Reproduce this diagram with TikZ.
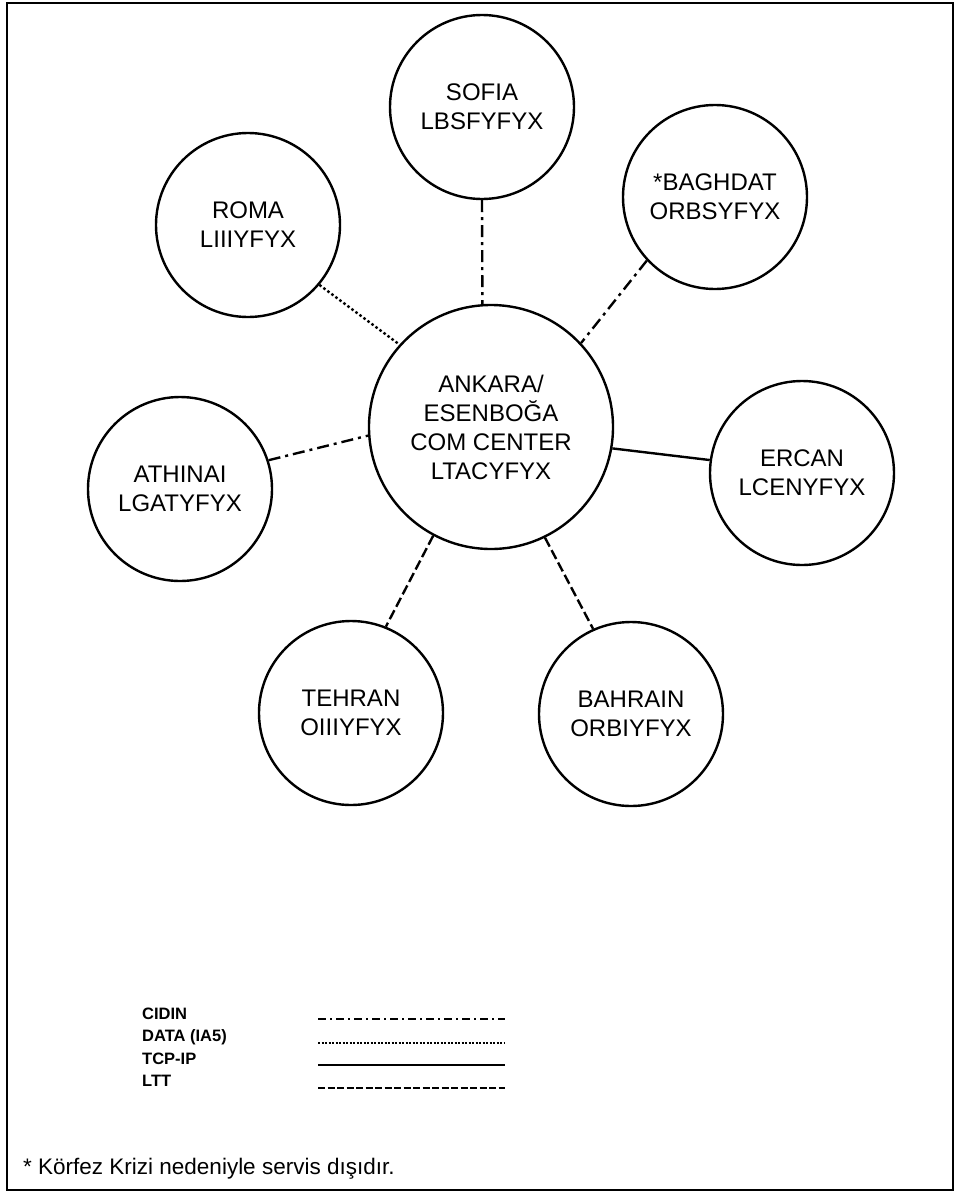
\documentclass[tikz,border=0pt]{standalone}
\usepackage{fontspec}
\setmainfont{Liberation Sans}
\begin{document}
\begin{tikzpicture}[x=1pt,y=-1pt,
  station/.style={circle, draw, line width=2.4pt, inner sep=0pt, align=center,
    font=\fontsize{24}{29}\selectfont},
  hub/.style={station, minimum size=244pt},
  outer/.style={station, minimum size=184pt},
  link/.style={line width=2.4pt},
  cidin/.style={link, dash pattern=on 12pt off 5pt on 3pt off 5pt},
  ia5/.style={link, dash pattern=on 2.5pt off 2.5pt},
  tcpip/.style={link},
  ltt/.style={link, dash pattern=on 10pt off 4pt},
  legendtext/.style={anchor=base west, inner sep=0pt,
    font=\bfseries\fontsize{16.5}{18}\selectfont},
  keyline/.style={line width=2pt},
  frame/.style={line width=1.5pt},
]
\useasboundingbox (0,0) rectangle (955,1192);

% outer frame
\draw[frame] (7,3) rectangle (953,1190);

% hub and stations
\node[hub]   (center)  at (491,427) {ANKARA/\\ESENBOĞA\\COM CENTER\\LTACYFYX};
\node[outer] (sofia)   at (482,107) {SOFIA\\LBSFYFYX};
\node[outer] (baghdat) at (715,197) {*BAGHDAT\\ORBSYFYX};
\node[outer] (roma)    at (248,225) {ROMA\\LIIIYFYX};
\node[outer] (athinai) at (180,489) {ATHINAI\\LGATYFYX};
\node[outer] (ercan)   at (802,473) {ERCAN\\LCENYFYX};
\node[outer] (tehran)  at (351,713) {TEHRAN\\OIIIYFYX};
\node[outer] (bahrain) at (631,714) {BAHRAIN\\ORBIYFYX};

% links
\draw[cidin] (sofia.south)     -- (center.94);
\draw[cidin] (baghdat.223.7)   -- (center.43.3);
\draw[ia5]   (roma.-40.3)      -- (center.138.6);
\draw[cidin] (athinai.18)      -- (center.184.6);
\draw[tcpip] (center.-10)      -- (ercan.172);
\draw[ltt]   (center.-118.8)   -- (tehran.68.4);
\draw[ltt]   (center.-64)      -- (bahrain.114.9);

% legend
\node[legendtext] (kcidin) at (142,1019) {CIDIN};
\node[legendtext] (kia5)   at (142,1041) {DATA (IA5)};
\node[legendtext] (ktcp)   at (142,1064) {TCP-IP};
\node[legendtext] (kltt)   at (142,1086) {LTT};

\coordinate (c1a) at (318,1019); \coordinate (c1b) at (505,1019);
\coordinate (c2a) at (318,1043); \coordinate (c2b) at (505,1043);
\coordinate (c3a) at (318,1065); \coordinate (c3b) at (505,1065);
\coordinate (c4a) at (318,1088); \coordinate (c4b) at (505,1088);
\draw[keyline, dash pattern=on 8pt off 4pt on 2pt off 4pt] (c1a) -- (c1b);
\draw[keyline, dash pattern=on 2pt off 1.5pt] (c2a) -- (c2b);
\draw[keyline] (c3a) -- (c3b);
\draw[keyline, dash pattern=on 7pt off 2.5pt] (c4a) -- (c4b);

% footnote
\node[anchor=base west, inner sep=0pt, font=\fontsize{22.5}{26}\selectfont]
  (note) at (23,1174) {* Körfez Krizi nedeniyle servis dışıdır.};
\end{tikzpicture}
\end{document}
